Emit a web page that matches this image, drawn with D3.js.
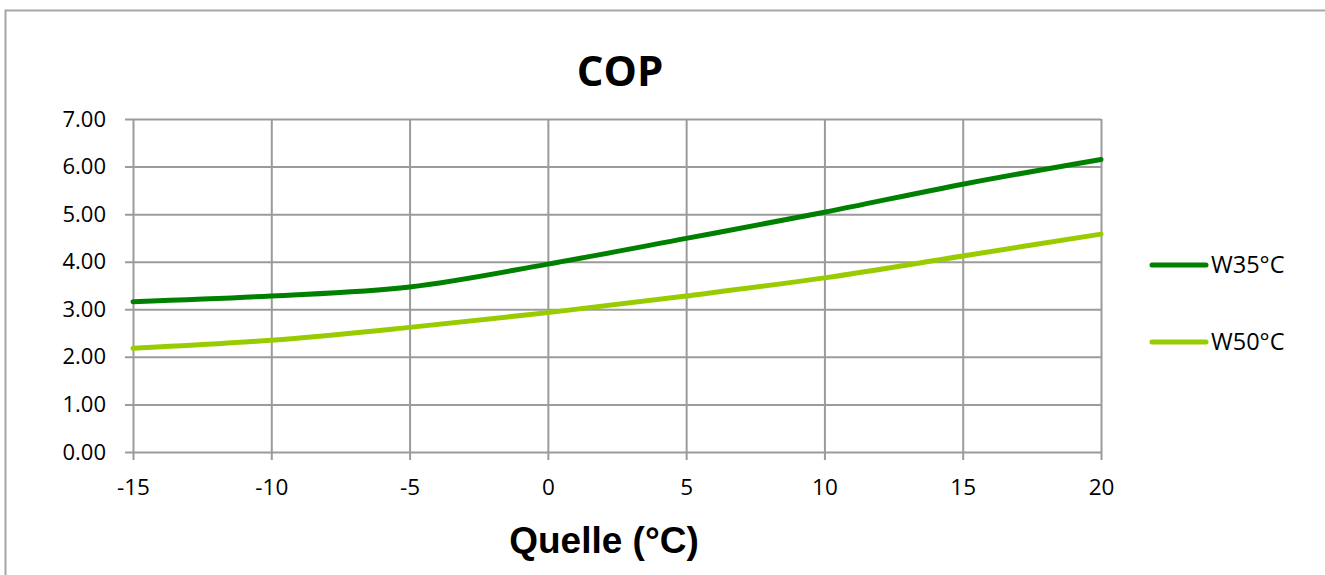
<!DOCTYPE html>
<html>
<head>
<meta charset="utf-8">
<script src="https://cdn.jsdelivr.net/npm/d3@7"></script>
<style>
  html, body { margin: 0; padding: 0; background: #fff; }
  svg { display: block; }
</style>
</head>
<body>
<svg id="chart" width="1325" height="575"></svg>
<script>
const quelle = [-15, -10, -5, 0, 5, 10, 15, 20];
const w35 = [3.16, 3.28, 3.47, 3.95, 4.49, 5.04, 5.63, 6.15];
const w50 = [2.18, 2.35, 2.62, 2.93, 3.28, 3.66, 4.12, 4.58];
const seriesNames = ["W35°C", "W50°C"];
const xTicks = [-15, -10, -5, 0, 5, 10, 15, 20];
const yTicks = [0, 1, 2, 3, 4, 5, 6, 7];
const titleText = "COP";
const xTitle = "Quelle (°C)";

(function () {
const svg = d3.select("#chart");
const W = 1325, H = 575;
const pLeft = 133, pRight = 1101, pTop = 119, pBottom = 452;
const colors = ["#008000", "#99CC00"];
const gridColor = "#9b9b9b";
const labelFont = "'Open Sans', 'DejaVu Sans', sans-serif";

// outer frame
svg.append("rect")
  .attr("x", 5.5).attr("y", 10.5)
  .attr("width", W + 20).attr("height", H + 20)
  .attr("fill", "#fff").attr("stroke", "#a6a6a6").attr("stroke-width", 2);

const x = d3.scaleLinear().domain([-15, 20]).range([pLeft, pRight]);
const y = d3.scaleLinear().domain([0, 7]).range([pBottom, pTop]);

// x axis with gridlines
const gx = svg.append("g")
  .attr("transform", `translate(0,${pBottom + 8})`)
  .call(d3.axisBottom(x).tickValues(xTicks).tickFormat(d3.format("d"))
    .tickSize(-(pBottom + 8 - pTop)).tickPadding(19));
gx.select(".domain").remove();
gx.selectAll("line").attr("stroke", gridColor).attr("stroke-width", 2);
gx.selectAll("text")
  .attr("font-family", labelFont).attr("font-size", 22.5).attr("fill", "#000")
  .text(d => d < 0 ? "-" + Math.abs(d) : d);

// y axis with gridlines
const gy = svg.append("g")
  .attr("transform", `translate(${pLeft - 8},0)`)
  .call(d3.axisLeft(y).tickValues(yTicks).tickFormat(d3.format(".2f"))
    .tickSize(-(pRight - pLeft + 8)).tickPadding(19));
gy.select(".domain").remove();
gy.selectAll("line").attr("stroke", gridColor).attr("stroke-width", 2);
gy.selectAll("text")
  .attr("font-family", labelFont).attr("font-size", 22).attr("fill", "#000");

// lines
const data = [w35, w50];
const line = d3.line()
  .x((d, i) => x(quelle[i]))
  .y(d => y(d))
  .curve(d3.curveCardinal.tension(0));

data.forEach((s, k) => {
  svg.append("path")
    .datum(s)
    .attr("d", line)
    .attr("fill", "none")
    .attr("stroke", colors[k])
    .attr("stroke-width", 5)
    .attr("stroke-linejoin", "round")
    .attr("stroke-linecap", "round");
});

// title
svg.append("text")
  .attr("x", 620).attr("y", 86)
  .attr("text-anchor", "middle")
  .attr("font-family", labelFont)
  .attr("font-weight", "bold")
  .attr("font-size", 42)
  .attr("fill", "#000")
  .text(titleText);

// x axis title
svg.append("text")
  .attr("x", 604).attr("y", 553)
  .attr("text-anchor", "middle")
  .attr("font-family", "'Liberation Sans', Arial, sans-serif")
  .attr("font-weight", "bold")
  .attr("font-size", 37)
  .attr("fill", "#000")
  .text(xTitle);

// legend
const legendY = [265, 342];
seriesNames.forEach((name, k) => {
  const g = svg.append("g").attr("transform", `translate(0,${legendY[k]})`);
  g.append("line")
    .attr("x1", 1152).attr("x2", 1206)
    .attr("y1", 0).attr("y2", 0)
    .attr("stroke", colors[k]).attr("stroke-width", 5)
    .attr("stroke-linecap", "round");
  g.append("text")
    .attr("x", 1211).attr("y", 0).attr("dy", "0.36em")
    .attr("font-family", labelFont)
    .attr("font-size", 23.5)
    .attr("fill", "#000")
    .text(name);
});
})();
</script>
</body>
</html>
